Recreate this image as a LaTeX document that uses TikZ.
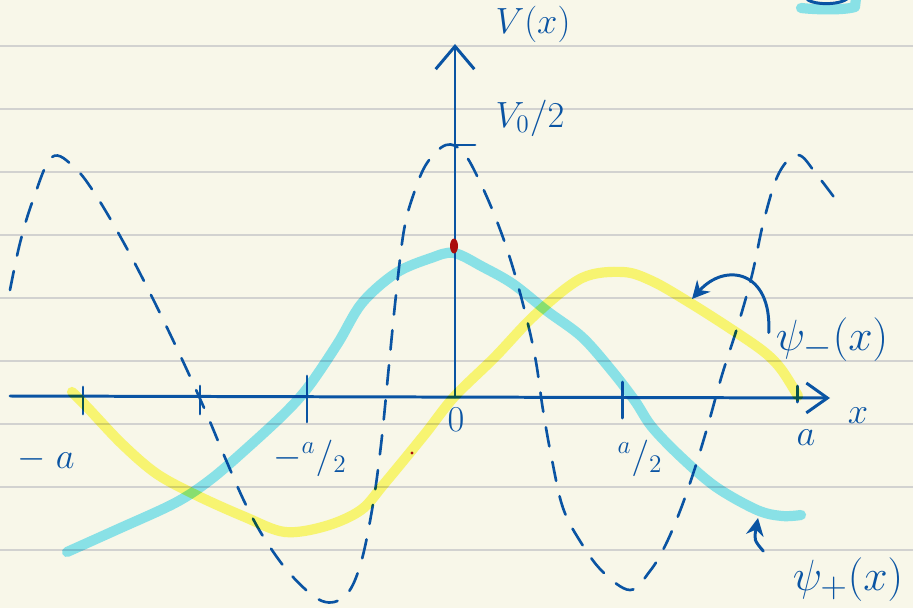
\documentclass[tikz,border=0pt]{standalone}
\usepackage{tikz}
\usetikzlibrary{arrows.meta, positioning}
\definecolor{paper}{RGB}{248,247,233}
\definecolor{ruling}{RGB}{210,210,208}
\definecolor{ink}{RGB}{10,84,163}
\definecolor{hlcyan}{RGB}{141,233,252}
\definecolor{hlyellow}{RGB}{254,252,124}
\definecolor{dotred}{RGB}{170,14,14}
\tikzset{
  axisline/.style  = {ink, line width=1.7pt, line cap=round},
  tickmark/.style  = {ink, line width=1.7pt, line cap=round},
  potential/.style = {ink, line width=1.5pt, line cap=round, dash pattern=on 11pt off 9pt},
  hlplus/.style    = {hlcyan, line width=5.8pt, line cap=round, line join=round},
  hlminus/.style   = {hlyellow, line width=5.8pt, line cap=round, line join=round},
  pointer/.style   = {ink, line width=1.7pt, line cap=round, -{Stealth[length=10pt, width=10pt]}},
  lbl/.style       = {text=ink, font=\huge, inner sep=1pt},
  psilbl/.style    = {text=ink, font=\Huge, inner sep=1pt},
}

\begin{document}
\begin{tikzpicture}[x=0.02cm, y=-0.02cm]

% paper and ruling
\fill[paper] (0,0) rectangle (913,608);
\clip (0,0) rectangle (913,608);
\foreach \ry in {46,109,172,235,298,361,424,487,550}{
    \draw[ruling, line width=1.1pt] (0,\ry) -- (913,\ry);
}

% axes
\coordinate (xstart) at (10,396);
\coordinate (xend)   at (830,398);
\coordinate (origin) at (455,397);
\coordinate (yend)   at (455,44);
\draw[axisline, -{Straight Barb[length=12pt, width=17pt]}] (xstart) -- (xend);
\draw[axisline, -{Straight Barb[length=13pt, width=22pt]}] (origin) -- (yend);

% ticks on x
\foreach \tx/\up/\dn [count=\k] in {83/9/18, 200/10/18, 307/20/26, 622/14/22, 797/10/6}{
    \coordinate (t\k) at (\tx,396);
    \draw[tickmark] ([yshift=\up*0.02cm]t\k) -- ([yshift=-\dn*0.02cm]t\k);
}
% tick on y
\coordinate (vhalf) at (455,145);
\draw[tickmark] ([xshift=-0.15cm]vhalf) -- ([xshift=0.4cm]vhalf);

% potential V(x)
\draw[potential] plot[smooth, tension=0.6] coordinates {
    (10,290) (20,243) (33,200) (52,157) (75,168) (97,197) (125,245)
    (152,297) (180,355) (205,410) (226,460) (246,505) (266,541)
    (292,576) (322,601) (345,596) (360,566) (372,510) (381,445)
    (389,365) (396,295) (404,230) (414,193) (427,163) (446,145)
    (463,152) (480,182) (498,224) (513,268) (527,320) (536,362)
    (543,410) (552,460) (563,508) (580,541) (602,571) (630,590)
    (650,571) (665,546) (680,511) (694,471) (708,425) (722,375)
    (738,325) (752,275) (764,220) (779,173) (798,155) (817,175) (842,208)};

% stroke cut off at the top
\draw[ink, line width=1.7pt] (806,-2) .. controls (810,5) and (840,6) .. (848,-2);

% wave functions
\begin{scope}[blend mode=multiply]
\draw[hlminus] plot[smooth, tension=0.55] coordinates {
    (72,392) (87,407) (122,444) (157,474) (198,496) (245,517)
    (285,532) (326,526) (361,510) (384,484) (425,434) (454,397)
    (495,357) (536,314) (582,278) (623,272) (652,281) (687,301)
    (728,327) (763,351) (781,369) (798,396)};
\draw[hlplus] plot[smooth, tension=0.55] coordinates {
    (67,552) (116,530) (175,503) (210,480) (245,450) (285,413)
    (309,386) (338,343) (362,303) (396,273) (431,258) (454,253)
    (483,267) (513,284) (547,311) (582,337) (612,371) (635,401)
    (652,427) (681,457) (716,487) (757,510) (782,516) (801,515)};
\draw[hlplus] (801,8) .. controls (820,10) and (845,10) .. (855,7) -- (856,-2);
\end{scope}

% marks
\fill[dotred] (454,246) ellipse (4 and 7.5);
\fill[dotred] (412,453) circle (1.6);

% labels
\node[lbl] (vx)    at (533,24)  {$V(x)$};
\node[lbl] (v0)    at (530,118) {$V_0/2$};
\node[lbl] (mina)  at (46,459)  {$-\;a$};
\node[lbl] (minha) at (310,458) {$-{}^{a}/_{2}$};
\node[lbl] (zero)  at (456,420) {$0$};
\node[lbl] (plha)  at (640,458) {${}^{a}/_{2}$};
\node[lbl] (pla)   at (806,438) {$a$};
\node[lbl] (xlbl)  at (858,416) {$x$};
\node[psilbl] (psim) at (832,340) {$\psi_-(x)$};
\node[psilbl] (psip) at (848,580) {$\psi_+(x)$};

% pointers
\coordinate (onminus) at (692,299);
\coordinate (onplus)  at (758,518);
\draw[pointer] ([xshift=-0.1cm, yshift=0.15cm]psim.west) .. controls (772,270) and (725,262) .. (onminus);
\draw[pointer] ([xshift=-0.55cm, yshift=0.1cm]psip.north west) .. controls (754,540) .. (onplus);

\end{tikzpicture}
\end{document}
